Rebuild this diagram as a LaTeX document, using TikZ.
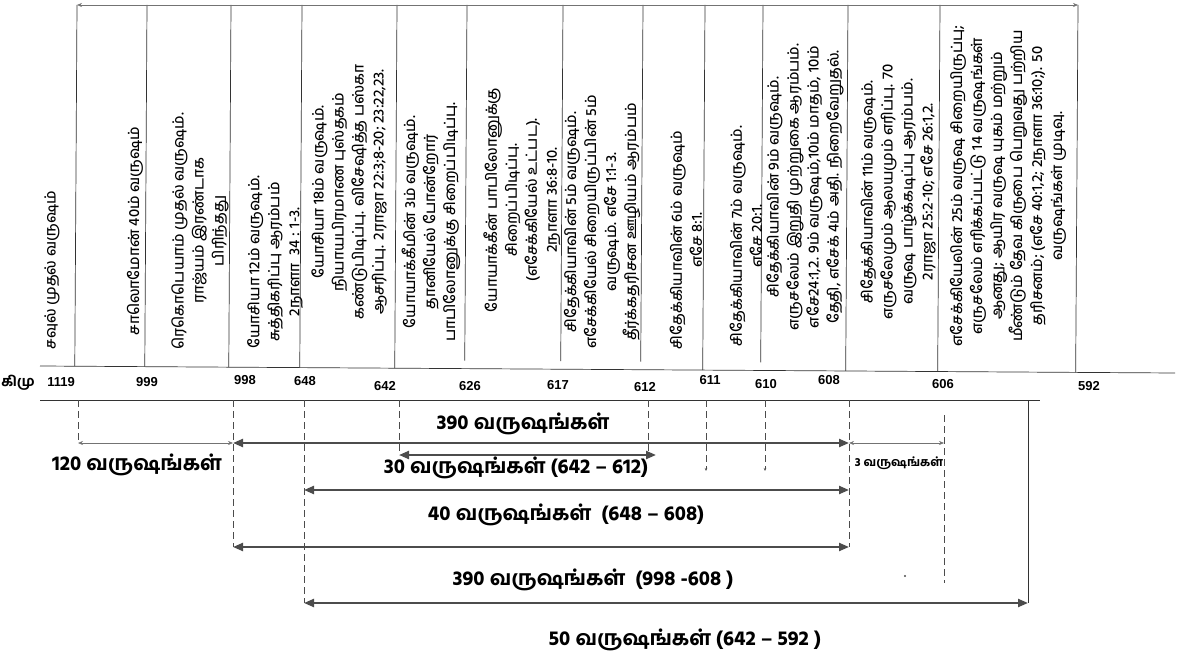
\documentclass[tikz,border=0pt]{standalone}
\usepackage{fontspec}
\setmainfont{Liberation Sans}
\newfontfamily\tamil[Script=Tamil, UprightFont=* Medium, BoldFont=* Bold]{Hind Madurai}
\usetikzlibrary{arrows.meta, calc, positioning}

\begin{document}
\begin{tikzpicture}[x=1pt, y=-1pt,
    event/.style={rotate=90, align=center, inner sep=0pt, font=\tamil\fontsize{15}{20}\selectfont},
    year/.style={inner sep=0pt, font=\bfseries\fontsize{13}{13}\selectfont},
    span/.style={inner sep=0pt, font=\tamil\bfseries\fontsize{20.5}{20.5}\selectfont},
    rule/.style={draw=black!80, line width=0.7pt},
    guide/.style={draw=black!70, line width=0.7pt, dash pattern=on 7pt off 4pt},
    period/.style={{Triangle[length=10pt,width=8pt]}-{Triangle[length=10pt,width=8pt]}, draw=black!70, fill=black!70, line width=2.2pt},
    gap/.style={{Stealth[length=5pt,width=4pt]}-{Stealth[length=5pt,width=4pt]}, draw=black!55, line width=0.6pt}
]

\useasboundingbox (0,0) rectangle (1183,660);

\coordinate (axL) at (40,366);
\coordinate (axR) at (1175,373);
\draw[rule] (axL) -- (axR);

\foreach \n/\x/\s in {1119/77/0, 999/147/0, 998/231/0, 648/302/0, 642/397/0, 626/467/8, 617/563/8, 612/643/8, 611/705/0, 610/763/8, 608/848/0, 606/940/0, 592/1078/0}{
  \coordinate (t\n) at (\x,5);
  \draw[rule] (t\n) -- ($(axL)!(t\n)!(axR)+(0,-\s)$);
}
\draw[gap] (t1119) -- (t592);

\node[year, font=\tamil\bfseries\fontsize{14}{14}\selectfont] (era) at (18,383) {கிமு};
\foreach \n/\x/\y in {1119/61/382, 999/147/382, 998/245/380, 648/305/381, 642/385/386, 626/470/386, 617/558/385, 612/645/387, 611/710/380, 610/766/384, 608/829/380, 606/943/384, 592/1089/386}{
  \node[year] (y\n) at (\x,\y) {\n};
}

\node[event] (saul) at (52,270) {சவுல் முதல் வருஷம்};
\node[event] (solomon) at (135,231) {சாலொமோன் 40ம் வருஷம்};
\node[event] (rehoboam) at (200,231) {ரெகொபெயாம் முதல் வருஷம்.\\ராஜ்யம் இரண்டாக\\பிரிந்தது};
\node[event] (josiah12) at (275,262) {யோசியா 12ம் வருஷம்.\\சுத்திகரிப்பு ஆரம்பம்\\2நாளா~ 34 : 1-3.};
\node[event] (josiah18) at (349,192) {யோசியா 18ம் வருஷம்.\\நியாயபிரமாண புஸ்தகம்\\கண்டுபிடிப்பு. விசேஷித்த பஸ்கா\\ஆசரிப்பு. 2ராஜா 22:3;8-20; 23:22,23.};
\node[event] (jehoiakim) at (431,222) {யோயாக்கீமின் 3ம் வருஷம்.\\தானியேல் போன்றோர்\\பாபிலோனுக்கு சிறைப்பிடிப்பு.};
\node[event] (jehoiachin) at (522,200) {யோயாக்கீன் பாபிலோனுக்கு\\சிறைப்பிடிப்பு.\\(எசேக்கியேல் உட்பட).\\2நாளா 36:8-10.};
\node[event] (zed5) at (602,222) {சிதேக்கியாவின் 5ம் வருஷம்.\\எசேக்கியேல் சிறையிருப்பின் 5ம்\\வருஷம். எசே 1:1-3.\\தீர்க்கதரிசன ஊழியம் ஆரம்பம்};
\node[event] (zed6) at (686,240) {சிதேக்கியாவின் 6ம் வருஷம்\\எசே 8:1.};
\node[event] (zed7) at (746,236) {சிதேக்கியாவின் 7ம் வருஷம்.\\எசே 20:1.};
\node[event] (zed9) at (805,187) {சிதேக்கியாவின் 9ம் வருஷம்.\\எருசலேம் இறுதி முற்றுகை ஆரம்பம்.\\எசே24:1,2. 9ம் வருஷம்,10ம் மாதம், 10ம்\\தேதி, எசேக் 4ம் அதி. நிறைவேறுதல்.};
\node[event] (zed11) at (898,192) {சிதேக்கியாவின் 11ம் வருஷம்.\\எருசலேமும் ஆலயமும் எரிப்பு. 70\\வருஷ பாழ்க்கடிப்பு ஆரம்பம்.\\2ராஜா 25:2-10; எசே 26:1,2.};
\node[event] (ezek25) at (1008,186) {எசேக்கியேலின் 25ம் வருஷ சிறையிருப்பு;\\எருசலேம் எரிக்கப்பட்டு 14 வருஷங்கள்\\ஆனது; ஆயிர வருஷ யுகம் மற்றும்\\மீண்டும் தேவ கிருபை பெறுவது பற்றிய\\தரிசனம்; (எசே 40:1,2; 2நாளா 36:10;). 50\\வருஷங்கள் முடிவு.};

\coordinate (bL) at (40,400);
\coordinate (bR) at (1040,400);
\draw[rule] (bL) -- (bR);

\foreach \n/\x/\y in {1119/78/443, 998/233/547, 648/304/603, 642/399/455, 612/648/455, 608/849/547}{
  \coordinate (u\n) at (\x,400);
  \coordinate (v\n) at (\x,\y);
  \draw[guide] (u\n) -- (v\n);
}
\foreach \n/\x in {611/706, 610/765}{
  \coordinate (u\n) at (\x,400);
  \coordinate (v\n) at (\x,471);
  \draw[guide, -{Stealth[length=3pt,width=2.5pt]}] (u\n) -- (v\n);
}
\coordinate (u606) at (944,415);
\coordinate (v606) at (944,583);
\draw[guide] (u606) -- (v606);
\coordinate (u592) at (1028,400);
\coordinate (v592) at (1028,603);
\draw[rule] (u592) -- (v592);

\coordinate (r40) at (0,490);
\draw[gap] (v1119) -- (v1119 -| u998);
\draw[period] (v1119 -| u998) -- (v1119 -| u608);
\draw[gap] (v1119 -| u608) -- (v1119 -| u606);
\draw[period] (v642) -- ($(v612)+(8,0)$);
\draw[period] (u648 |- r40) -- (u608 |- r40);
\draw[period] (v998) -- (v608);
\draw[period] (v648) -- (v592);

\node[span] (l390) at (523,424) {390 வருஷங்கள்};
\node[span] (l120) at (137,465) {120 வருஷங்கள்};
\node[span] (l30) at (516,468) {30 வருஷங்கள் (642 – 612)};
\node[span, font=\tamil\bfseries\fontsize{12}{12}\selectfont] (l3) at (899,463) {3 வருஷங்கள்};
\node[span] (l40) at (566,515) {40 வருஷங்கள்~ (648 – 608)};
\node[span] (l390b) at (593,580) {390 வருஷங்கள்~ (998 -608 )};
\node[span] (l50) at (685,640) {50 வருஷங்கள் (642 – 592 )};
\node[circle, fill=black!70, inner sep=0.8pt] (speck) at (905,576) {};

\end{tikzpicture}
\end{document}
